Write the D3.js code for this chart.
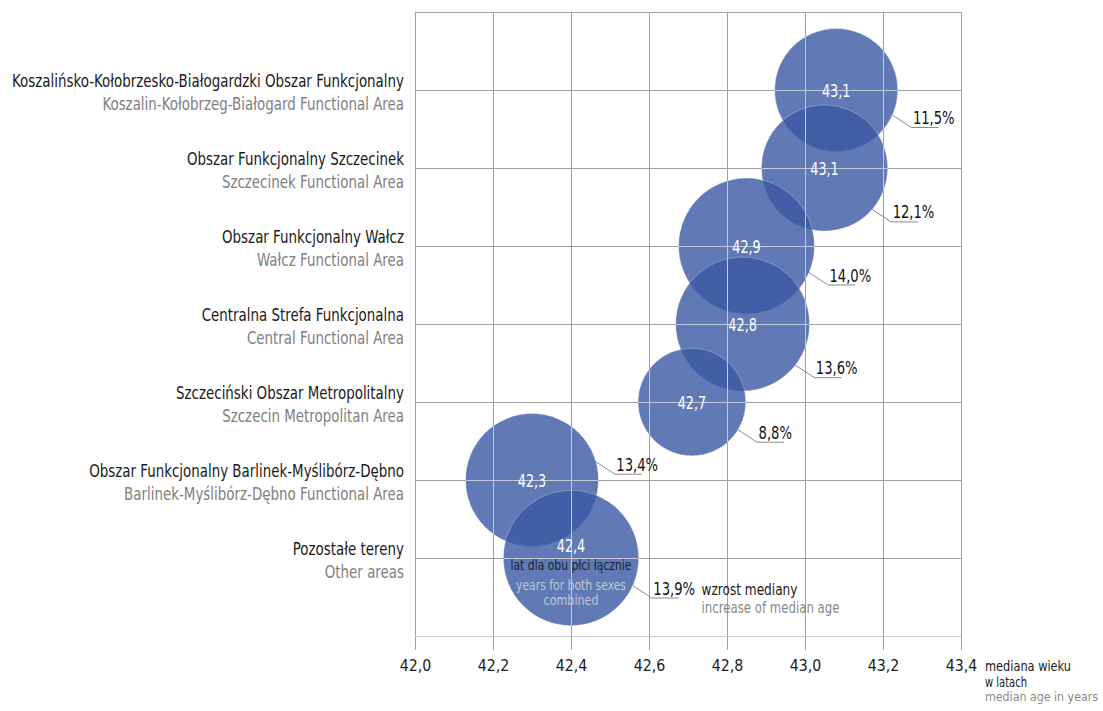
<!DOCTYPE html>
<html>
<head>
<meta charset="utf-8">
<script src="https://cdn.jsdelivr.net/npm/d3@7"></script>
<style>
  html, body { margin: 0; padding: 0; background: #fff; }
  svg { display: block; }
  text { font-family: "DejaVu Sans Condensed", "Liberation Sans", "Noto Sans", sans-serif; }
</style>
</head>
<body>
<svg id="chart" width="1103" height="711"></svg>
<script>
// ---- data ----
const categoriesPL = [
  "Koszalińsko-Kołobrzesko-Białogardzki Obszar Funkcjonalny",
  "Obszar Funkcjonalny Szczecinek",
  "Obszar Funkcjonalny Wałcz",
  "Centralna Strefa Funkcjonalna",
  "Szczeciński Obszar Metropolitalny",
  "Obszar Funkcjonalny Barlinek-Myślibórz-Dębno",
  "Pozostałe tereny"
];
const categoriesEN = [
  "Koszalin-Kołobrzeg-Białogard Functional Area",
  "Szczecinek Functional Area",
  "Wałcz Functional Area",
  "Central Functional Area",
  "Szczecin Metropolitan Area",
  "Barlinek-Myślibórz-Dębno Functional Area",
  "Other areas"
];
const medianAge = [43.08, 43.05, 42.85, 42.84, 42.71, 42.30, 42.40];
const medianAgeLabels = ["43,1", "43,1", "42,9", "42,8", "42,7", "42,3", "42,4"];
const medianIncrease = [11.5, 12.1, 14.0, 13.6, 8.8, 13.4, 13.9];
const xTicks = [42.0, 42.2, 42.4, 42.6, 42.8, 43.0, 43.2, 43.4];
// leader-line direction (degrees) for each increase label
const leaderAngles = [24, 41, 23, 38, 31, -16, 24];

(function () {
const svg = d3.select("#chart");
const plLocale = d3.formatLocale({ decimal: ",", thousands: " ", grouping: [3], currency: ["", " zł"] });
const fmt1 = plLocale.format(".1f");

const pL = 415, pR = 961, pT = 12, pB = 636;
const x = d3.scaleLinear().domain([42.0, 43.4]).range([pL, pR]);
const y = d3.scalePoint().domain(categoriesPL).range([pT, pB]).padding(1);
const r = d3.scaleSqrt().domain([0, 14]).range([0, 67.9]);

const gridColor = "#a0a0a0";

const data = categoriesPL.map((c, i) => ({
  cat: c, en: categoriesEN[i], age: medianAge[i], lab: medianAgeLabels[i],
  inc: medianIncrease[i], ang: leaderAngles[i]
}));

// helpers to mimic the condensed typeface
function fitWidth(sel, w) { sel.attr("textLength", w).attr("lengthAdjust", "spacingAndGlyphs"); }
function condense(sel, k) {
  sel.each(function () {
    const n = this.getComputedTextLength();
    d3.select(this).attr("textLength", n * k).attr("lengthAdjust", "spacingAndGlyphs");
  });
}
function factorFor(sel, target) { return target / sel.node().getComputedTextLength(); }

// ---- bubbles ----
const defs = svg.append("defs");
const clip = defs.append("clipPath").attr("id", "bubbleClip");
clip.selectAll("circle").data(data).join("circle")
  .attr("cx", d => x(d.age)).attr("cy", d => y(d.cat)).attr("r", d => r(d.inc));

svg.append("g").selectAll("circle").data(data).join("circle")
  .attr("cx", d => x(d.age))
  .attr("cy", d => y(d.cat))
  .attr("r", d => r(d.inc))
  .attr("fill", "rgb(58,88,163)")
  .attr("fill-opacity", 0.8)
  .attr("stroke", "#ffffff")
  .attr("stroke-opacity", 0.35)
  .attr("stroke-width", 0.8);

// ---- grid (drawn twice: grey, then lighter inside bubbles) ----
function drawGrid(g, color, withText) {
  const xa = g.append("g").attr("transform", `translate(0,${pB + 14})`)
    .call(d3.axisBottom(x).tickValues(xTicks).tickSize(-(pB + 14 - pT)).tickFormat(d => fmt1(d)));
  xa.select(".domain").remove();
  xa.selectAll(".tick line").attr("stroke", color).attr("shape-rendering", "crispEdges");
  if (withText) {
    xa.selectAll(".tick text")
      .attr("y", 21).attr("dy", 0)
      .attr("font-size", 16)
      .attr("fill", "#1a1a1a")
      .style("font-family", '"DejaVu Sans Condensed", sans-serif');
  } else {
    xa.selectAll(".tick text").remove();
  }
  const ya = g.append("g").attr("transform", `translate(${pL},0)`)
    .call(d3.axisLeft(y).tickSize(-(pR - pL)).tickFormat(""));
  ya.select(".domain").remove();
  ya.selectAll(".tick line").attr("stroke", color).attr("shape-rendering", "crispEdges");
  g.append("line").attr("x1", pL).attr("x2", pR).attr("y1", pT).attr("y2", pT)
    .attr("stroke", color).attr("shape-rendering", "crispEdges");
  return xa;
}
const grid = svg.append("g");
const xAxisG = drawGrid(grid, gridColor, true);
grid.append("line").attr("x1", pL).attr("x2", pR).attr("y1", pB).attr("y2", pB)
  .attr("stroke", "#cfcfcf").attr("shape-rendering", "crispEdges");
const gridIn = svg.append("g").attr("clip-path", "url(#bubbleClip)");
drawGrid(gridIn, "#c3c9db", false);

const tickText = xAxisG.selectAll(".tick text");
condense(tickText, factorFor(xAxisG.select(".tick text"), 31.5));

// ---- category labels ----
const catG = svg.append("g").attr("text-anchor", "end");
const plT = catG.selectAll("text.pl").data(data).join("text").attr("class", "pl")
  .attr("x", 404).attr("y", d => y(d.cat) - 3.5)
  .attr("font-size", 17).attr("fill", "#1a1a1a")
  .text(d => d.cat);
const enT = catG.selectAll("text.en").data(data).join("text").attr("class", "en")
  .attr("x", 404).attr("y", d => y(d.cat) + 19.5)
  .attr("font-size", 17).attr("fill", "#808080")
  .text(d => d.en);
const kCat = factorFor(plT.filter((d, i) => i === 0), 392);
condense(plT, kCat);
condense(enT, kCat);

// ---- value labels in bubbles ----
const last = data.length - 1;
const valT = svg.append("g").attr("text-anchor", "middle").selectAll("text").data(data).join("text")
  .attr("x", d => x(d.age))
  .attr("y", (d, i) => y(d.cat) + (i === last ? -6.5 : 6.5))
  .attr("font-size", 17.5).attr("fill", "#ffffff")
  .text(d => d.lab);
condense(valT, factorFor(valT.filter((d, i) => i === 0), 28.5));

// ---- leader lines and increase labels ----
const lead = svg.append("g");
const pctNodes = [];
data.forEach((d, i) => {
  const cx = x(d.age), cy = y(d.cat), rr = r(d.inc);
  const a = d.ang * Math.PI / 180;
  const sx = cx + rr * Math.cos(a), sy = cy + rr * Math.sin(a);
  const ex = sx + 19, ey = sy + 12.5;
  lead.append("path")
    .attr("d", `M${sx},${sy}L${ex},${ey}L${ex + 27},${ey}`)
    .attr("fill", "none").attr("stroke", "#8a8a8a").attr("stroke-width", 1);
  const t = lead.append("text")
    .attr("x", ex + 1.5).attr("y", ey - 3.5)
    .attr("font-size", 17.5).attr("fill", "#111")
    .text(fmt1(d.inc) + "%");
  pctNodes.push(t);
});
const kPct = factorFor(pctNodes[2], 41.7);
pctNodes.forEach(t => condense(t, kPct));

// "increase of median" legend next to last label
{
  const t = pctNodes[last];
  const tx = +t.attr("x") + (+t.attr("textLength")) + 6.5;
  const ty = +t.attr("y");
  const a1 = lead.append("text").attr("x", tx).attr("y", ty)
    .attr("font-size", 15).attr("fill", "#1a1a1a").text("wzrost mediany");
  fitWidth(a1, 96);
  const a2 = lead.append("text").attr("x", tx).attr("y", ty + 18)
    .attr("font-size", 15).attr("fill", "#8a8a8a").text("increase of median age");
  fitWidth(a2, 138);
}

// ---- legend inside last bubble ----
const lb = data[last];
const lg = svg.append("g").attr("text-anchor", "middle");
fitWidth(lg.append("text").attr("x", x(lb.age)).attr("y", y(lb.cat) + 11.5)
  .attr("font-size", 14).attr("fill", "#1b1f2e").text("lat dla obu płci łącznie"), 121);
fitWidth(lg.append("text").attr("x", x(lb.age)).attr("y", y(lb.cat) + 32)
  .attr("font-size", 14).attr("fill", "#c0c5d3").text("years for both sexes"), 110);
fitWidth(lg.append("text").attr("x", x(lb.age)).attr("y", y(lb.cat) + 46.5)
  .attr("font-size", 14).attr("fill", "#c0c5d3").text("combined"), 55);

// ---- axis title ----
const at = svg.append("g");
fitWidth(at.append("text").attr("x", 985).attr("y", 671).attr("font-size", 14).attr("fill", "#1a1a1a").text("mediana wieku"), 86);
fitWidth(at.append("text").attr("x", 985).attr("y", 686.5).attr("font-size", 14).attr("fill", "#1a1a1a").text("w latach"), 42);
fitWidth(at.append("text").attr("x", 985).attr("y", 701).attr("font-size", 12.5).attr("fill", "#8a8a8a").text("median age in years"), 113);
})();
</script>
</body>
</html>
